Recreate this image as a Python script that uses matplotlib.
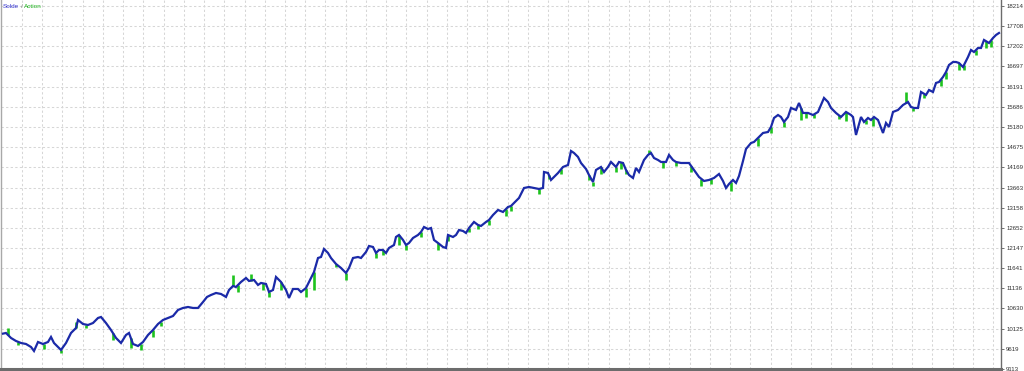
"""Strategy tester style balance / equity curve."""

import matplotlib
matplotlib.use("Agg")
import matplotlib.pyplot as plt
import numpy as np

# trade number and balance after that trade
trades = [
    2, 5, 10, 15, 20, 25, 30, 33, 37, 42, 47, 50, 53, 57, 60, 65, 70, 75, 77, 82,
    87, 92, 97, 100, 105, 110, 115, 120, 125, 128, 132, 137, 142, 147, 152, 157, 162, 167, 172, 177,
    182, 187, 192, 197, 202, 206, 210, 215, 220, 225, 228, 232, 235, 240, 245, 248, 253, 257, 260, 265,
    268, 272, 275, 280, 285, 288, 292, 297, 300, 305, 308, 313, 317, 320, 323, 327, 330, 335, 340, 345,
    348, 352, 357, 360, 365, 368, 372, 375, 378, 382, 385, 388, 393, 395, 398, 402, 405, 408, 412, 417,
    420, 423, 427, 430, 433, 437, 442, 445, 447, 452, 455, 458, 462, 465, 468, 473, 477, 480, 485, 488,
    492, 497, 502, 507, 510, 513, 518, 523, 528, 533, 538, 542, 543, 547, 550, 553, 557, 562, 567, 570,
    573, 577, 580, 585, 588, 592, 595, 600, 603, 607, 610, 615, 618, 622, 625, 628, 632, 635, 638, 643,
    647, 650, 653, 657, 660, 665, 668, 672, 675, 680, 683, 688, 693, 698, 703, 708, 713, 718, 722, 725,
    728, 732, 735, 738, 742, 745, 750, 753, 757, 762, 767, 770, 773, 777, 780, 783, 787, 790, 795, 798,
    802, 807, 812, 817, 820, 823, 827, 830, 835, 840, 845, 850, 852, 855, 860, 863, 867, 870, 873, 877,
    882, 885, 888, 892, 897, 902, 907, 910, 913, 917, 920, 925, 928, 932, 935, 938, 942, 945, 948, 952,
    955, 958, 962, 967, 970, 973, 977, 980, 983, 988, 992, 995, 998,
]
balance = [
    10000, 10016, 9891, 9815, 9765, 9740, 9665, 9565, 9790, 9740, 9790, 9916, 9765, 9665, 9590, 9765, 10016, 10141, 10342, 10241,
    10216, 10266, 10392, 10417, 10266, 10091, 9891, 9765, 9966, 10016, 9740, 9690, 9790, 9966, 10091, 10241, 10342, 10392, 10442, 10593,
    10643, 10668, 10643, 10643, 10793, 10919, 10969, 11019, 10994, 10919, 11094, 11194, 11169, 11295, 11395, 11320, 11345, 11220, 11270, 11245,
    11044, 11094, 11420, 11295, 11094, 10894, 11119, 11119, 11044, 11144, 11295, 11545, 11896, 11921, 12122, 12022, 11896, 11746, 11646, 11520,
    11646, 11896, 11921, 11896, 12047, 12197, 12172, 12022, 12097, 12097, 12022, 12147, 12222, 12423, 12473, 12348, 12222, 12272, 12398, 12473,
    12548, 12673, 12623, 12648, 12348, 12272, 12172, 12147, 12473, 12423, 12473, 12598, 12573, 12523, 12648, 12799, 12724, 12699, 12799, 12849,
    12974, 13100, 13050, 13175, 13200, 13275, 13401, 13651, 13676, 13651, 13626, 13651, 14052, 14027, 13852, 13927, 14027, 14178, 14228, 14579,
    14529, 14429, 14278, 14128, 13977, 13802, 14103, 14178, 14052, 14178, 14303, 14178, 14303, 14278, 14103, 13977, 13902, 14153, 14052, 14353,
    14479, 14529, 14403, 14353, 14303, 14303, 14479, 14353, 14303, 14278, 14278, 14278, 14103, 13927, 13827, 13852, 13902, 14002, 13827, 13651,
    13751, 13852, 13777, 13952, 14328, 14629, 14779, 14805, 14905, 15030, 15055, 15181, 15406, 15481, 15431, 15306, 15431, 15657, 15607, 15782,
    15532, 15532, 15481, 15557, 15732, 15908, 15807, 15657, 15532, 15431, 15557, 15481, 15431, 14980, 15431, 15306, 15406, 15356, 15431, 15356,
    15030, 15281, 15181, 15557, 15607, 15732, 15807, 15682, 15657, 15657, 16058, 15983, 16108, 16058, 16284, 16309, 16434, 16559, 16735, 16810,
    16810, 16785, 16685, 16935, 17111, 17061, 17161, 17161, 17362, 17286, 17412, 17487, 17537,
]

# equity readings where it visibly leaves the balance line
eq_trades = [
    7, 17, 43, 60, 75, 85, 112, 130, 140, 152, 160, 232, 237, 250, 262, 268, 280, 305, 313, 335,
    345, 375, 382, 398, 405, 420, 437, 447, 468, 477, 488, 505, 510, 538, 548, 560, 588, 592, 600, 615,
    620, 625, 648, 662, 675, 690, 700, 710, 730, 757, 770, 783, 800, 805, 813, 838, 845, 865, 872, 905,
    912, 923, 940, 945, 958, 963, 975, 985, 990,
]
eq_values = [
    10141, 9715, 9615, 9515, 10292, 10141, 9841, 9640, 9590, 9916, 10192, 11470, 11044, 11495, 11094, 10919, 11094, 10919, 11094, 11671,
    11345, 11896, 11972, 12222, 12097, 12423, 12097, 12323, 12548, 12623, 12724, 12949, 13075, 13501, 13877, 14002, 13852, 13701, 14002, 14052,
    14128, 14002, 14604, 14153, 14203, 14052, 13701, 13751, 13576, 14704, 15030, 15181, 15356, 15406, 15406, 15381, 15331, 15256, 15206, 16058,
    15582, 15908, 16208, 16384, 16610, 16610, 16986, 17161, 17186,
]

y_ticks = [9113, 9619, 10125, 10630, 11136, 11641, 12147, 12652, 13158, 13663,
           14169, 14675, 15180, 15686, 16191, 16697, 17202, 17708, 18214]

assert len(trades) == len(balance)
assert len(eq_trades) == len(eq_values)

plt.rcParams["font.family"] = ["Liberation Sans", "DejaVu Sans"]

W, H = 1024, 371
fig = plt.figure(figsize=(W / 100, H / 100), dpi=100, facecolor="white")
ax = fig.add_axes([1 / W, 2 / H, 1000 / W, 369 / H])
ax.set_facecolor("white")

grid_kw = dict(color="#d6d6d6", linewidth=0.75, linestyle=(0, (2.2, 2.2)), zorder=0)
for gx in np.arange(21, 1000, 20.23):
    ax.axvline(gx, **grid_kw)
for gy in y_ticks[1:]:
    ax.axhline(gy, **grid_kw)

green = "#1ec31e"
blue = "#1b2aa8"
# equity: short vertical excursions away from the balance line
base = np.interp(eq_trades, trades, balance)
ax.vlines(eq_trades, base, eq_values, color=green, linewidth=1.9, zorder=2)
ax.plot(trades, balance, color=blue, linewidth=1.6, zorder=3, solid_joinstyle="miter")

ax.set_xlim(0, 1000)
ax.set_ylim(9113, 18364)
ax.set_xticks([])
ax.yaxis.tick_right()
ax.set_yticks(y_ticks)
ax.set_yticklabels([str(v) for v in y_ticks])
ax.tick_params(axis="y", direction="out", length=2.5, width=0.7, color="#707070",
               labelsize=4.4, labelcolor="#303030", pad=1.2)

ax.spines["top"].set_visible(False)
ax.spines["left"].set_color("#a8a8a8")
ax.spines["left"].set_linewidth(1.0)
ax.spines["right"].set_color("#6c6c6c")
ax.spines["right"].set_linewidth(1.0)
ax.spines["bottom"].set_color("#6c6c6c")
ax.spines["bottom"].set_linewidth(2.2)

# legend text in the top-left corner
ty = 1 - 6 / H
t1 = fig.text(3 / W, ty, "Solde", fontsize=4.6, color="#3535d0", va="center", ha="left")
fig.canvas.draw()
r = fig.canvas.get_renderer()
x1 = t1.get_window_extent(r).x1 / W
t2 = fig.text(x1 + 1.5 / W, ty, "/", fontsize=4.6, color="#808080", va="center", ha="left")
x2 = t2.get_window_extent(r).x1 / W
fig.text(x2 + 1.5 / W, ty, "Action", fontsize=4.6, color="#1eb41e", va="center", ha="left")

fig.savefig("out.png", dpi=100, facecolor="white")
